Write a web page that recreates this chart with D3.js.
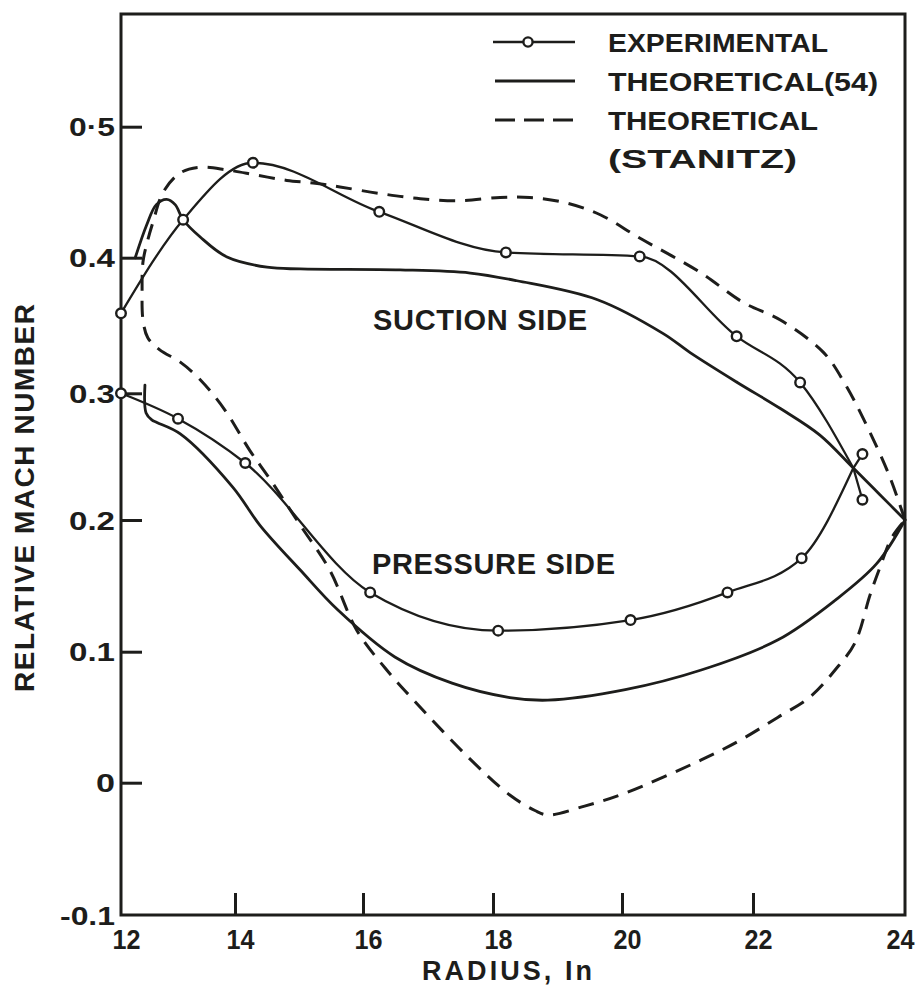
<!DOCTYPE html>
<html>
<head>
<meta charset="utf-8">
<script src="https://cdn.jsdelivr.net/npm/d3@7"></script>
<style>
  html, body { margin: 0; padding: 0; background: #ffffff; }
  svg { display: block; }
</style>
</head>
<body>
<svg id="chart" width="924" height="987"></svg>
<script>
// ---- Data: relative Mach number along the blade vs radius (in) ----

// Axis ticks
const xTickValues = [12, 14, 16, 18, 20, 22, 24];
const xTickLabels = ["12", "14", "16", "18", "20", "22", "24"];
const yTickValues = [-0.1, 0, 0.1, 0.2, 0.3, 0.4, 0.5];
const yTickLabels = ["-0.1", "0", "0.1", "0.2", "0.3", "0.4", "0·5"];

// Experimental points, suction side [radius, Mach]
const expSuction = [
  [12.00, 0.359], [13.09, 0.429], [14.28, 0.4725], [16.25, 0.435],
  [18.20, 0.404], [20.27, 0.401], [21.75, 0.342], [22.62, 0.308], [23.44, 0.252]
];
// Experimental points, pressure side
const expPressure = [
  [12.00, 0.300], [13.00, 0.280], [14.16, 0.245], [16.11, 0.145],
  [18.08, 0.116], [20.13, 0.124], [21.61, 0.145], [22.64, 0.171], [23.44, 0.216]
];
// Where the faired experimental curves meet near the trailing edge
const expJoin = [23.32, 0.241];

// Theoretical (54), suction side
const theoSuction = [
  [12.25, 0.400], [12.45, 0.425], [12.62, 0.4405], [12.80, 0.4445], [12.95, 0.4405],
  [13.09, 0.429], [13.39, 0.4158], [13.86, 0.4005], [14.50, 0.393],
  [15.02, 0.3917], [16.57, 0.391], [17.65, 0.3887], [18.37, 0.383], [19.62, 0.369],
  [20.63, 0.344], [21.04, 0.330], [21.76, 0.308], [22.36, 0.288], [22.88, 0.267],
  [23.32, 0.241], [23.67, 0.220], [24.00, 0.200]
];
// Theoretical (54), pressure side
const theoPressure = [
  [12.42, 0.306], [12.44, 0.2845], [12.54, 0.279], [12.63, 0.277], [13.04, 0.268],
  [13.96, 0.226], [14.39, 0.196], [15.02, 0.162], [15.60, 0.132], [16.49, 0.096],
  [17.37, 0.076], [18.26, 0.065], [18.85, 0.063], [20.05, 0.071], [21.21, 0.086],
  [22.33, 0.109], [23.08, 0.139], [23.63, 0.167], [24.00, 0.200]
];

// Theoretical (Stanitz), suction side from leading edge to trailing edge
const stanitzSuction = [
  [12.386, 0.397], [12.47, 0.4135], [12.56, 0.427], [12.74, 0.450], [13.04, 0.4647],
  [13.39, 0.469], [13.86, 0.467], [14.34, 0.463], [14.81, 0.459], [15.22, 0.457],
  [15.64, 0.454], [16.26, 0.449], [16.88, 0.445], [17.49, 0.4435], [18.11, 0.446],
  [18.57, 0.446], [19.12, 0.442], [19.67, 0.4326], [20.27, 0.415], [21.19, 0.3893],
  [21.85, 0.367], [22.36, 0.354], [22.93, 0.330], [23.20, 0.308], [23.46, 0.279],
  [23.78, 0.237], [24.00, 0.200]
];
// Theoretical (Stanitz), pressure side from leading edge to trailing edge
const stanitzPressure = [
  [12.386, 0.397], [12.37, 0.376], [12.386, 0.354], [12.47, 0.341], [12.68, 0.332],
  [13.04, 0.323], [13.39, 0.310], [13.82, 0.287], [14.23, 0.255], [14.55, 0.232],
  [15.02, 0.196], [15.48, 0.162], [15.90, 0.1165], [16.34, 0.0875], [16.78, 0.063],
  [17.66, 0.0174], [18.26, -0.0093], [18.65, -0.021], [18.85, -0.0244], [19.42, -0.0177],
  [20.05, -0.0078], [21.21, 0.0174], [21.81, 0.0326], [22.33, 0.050], [22.75, 0.0654],
  [23.08, 0.086], [23.34, 0.1066], [23.54, 0.143], [23.67, 0.164], [23.83, 0.187],
  [24.00, 0.200]
];

const legendItems = ["EXPERIMENTAL", "THEORETICAL(54)", "THEORETICAL", "(STANITZ)"];

// ---- Drawing ----
const ink = "#1d1d1b";
const font = "'Liberation Sans', Arial, Helvetica, sans-serif";
const svg = d3.select("#chart");

// Hand-ruled axes: tick spacing is not perfectly even, so piecewise scales
const x = d3.scaleLinear().domain(xTickValues).range([121, 235, 363, 493, 622, 753, 905]);
const y = d3.scaleLinear().domain(yTickValues).range([915, 782.7, 651.7, 520, 393.3, 257.7, 126.7]);
const frameTop = 14;

// Frame
svg.append("rect")
  .attr("x", x(12)).attr("y", frameTop)
  .attr("width", x(24) - x(12)).attr("height", y(-0.1) - frameTop)
  .attr("fill", "none").attr("stroke", ink).attr("stroke-width", 3);

// Inward tick marks
const xTicksG = svg.append("g")
  .attr("transform", `translate(0,${y(-0.1)})`)
  .call(d3.axisBottom(x).tickValues(xTickValues.slice(1, -1)).tickSizeInner(-22).tickSizeOuter(0).tickFormat(""));
xTicksG.select(".domain").remove();
xTicksG.selectAll("line").attr("stroke", ink).attr("stroke-width", 3);

const yTicksG = svg.append("g")
  .attr("transform", `translate(${x(12)},0)`)
  .call(d3.axisLeft(y).tickValues(yTickValues.slice(1)).tickSizeInner(-21).tickSizeOuter(0).tickFormat(""));
yTicksG.select(".domain").remove();
yTicksG.selectAll("line").attr("stroke", ink).attr("stroke-width", 3);

// Tick labels
const xLab = svg.append("g")
  .attr("transform", `translate(0,${y(-0.1)})`)
  .call(d3.axisBottom(x).tickValues(xTickValues).tickSize(0).tickPadding(15)
    .tickFormat((d, i) => xTickLabels[i]));
xLab.select(".domain").remove();
xLab.selectAll("text")
  .attr("font-family", font).attr("font-weight", "bold").attr("font-size", 27)
  .attr("fill", ink).attr("dx", (d, i) => i === 0 ? 5 : (i === xTickValues.length - 1 ? -5 : 5))
  .attr("textLength", 28).attr("lengthAdjust", "spacingAndGlyphs");

const yLab = svg.append("g")
  .attr("transform", `translate(${x(12)},0)`)
  .call(d3.axisLeft(y).tickValues(yTickValues).tickSize(0).tickPadding(6)
    .tickFormat((d, i) => yTickLabels[i]));
yLab.select(".domain").remove();
yLab.selectAll("text")
  .attr("font-family", font).attr("font-weight", "bold").attr("font-size", 26)
  .attr("fill", ink)
  .attr("dy", "0.35em")
  .each(function (d, i) {
    const t = yTickLabels[i];
    const w = t === "0" ? 19 : (t === "-0.1" ? 55 : 46);
    d3.select(this).attr("textLength", w).attr("lengthAdjust", "spacingAndGlyphs");
  });

// Axis titles
svg.append("text")
  .attr("x", 507).attr("y", 980)
  .attr("text-anchor", "middle")
  .attr("font-family", font).attr("font-weight", "bold").attr("font-size", 27)
  .attr("fill", ink)
  .attr("textLength", 170).attr("lengthAdjust", "spacing")
  .text("RADIUS, In");

svg.append("text")
  .attr("transform", "translate(34,498) rotate(-90)")
  .attr("text-anchor", "middle")
  .attr("font-family", font).attr("font-weight", "bold").attr("font-size", 28)
  .attr("fill", ink)
  .attr("textLength", 388).attr("lengthAdjust", "spacing")
  .text("RELATIVE MACH NUMBER");

// Curves
const smooth = d3.line().x(d => x(d[0])).y(d => y(d[1])).curve(d3.curveCatmullRom.alpha(0.5));
const faired = d3.line().x(d => x(d[0])).y(d => y(d[1])).curve(d3.curveMonotoneX);

const curves = svg.append("g").attr("fill", "none").attr("stroke", ink)
  .attr("stroke-linejoin", "round").attr("stroke-linecap", "round");

// Stanitz: one dashed loop, suction side reversed then pressure side
curves.append("path")
  .attr("d", smooth(stanitzSuction.slice().reverse().concat(stanitzPressure.slice(1))))
  .attr("stroke-width", 3).attr("stroke-dasharray", "16,10").attr("stroke-linecap", "butt");

curves.append("path").attr("d", smooth(theoSuction)).attr("stroke-width", 2.8);
curves.append("path").attr("d", smooth(theoPressure)).attr("stroke-width", 2.8);

curves.append("path")
  .attr("d", faired(expSuction.slice(0, -1).concat([expJoin])))
  .attr("stroke-width", 2.3);
curves.append("path")
  .attr("d", faired(expPressure.slice(0, -1).concat([expJoin])))
  .attr("stroke-width", 2.3);
// short leads from the junction to the trailing-edge test points
const lastPts = [expSuction[expSuction.length - 1], expPressure[expPressure.length - 1]];
curves.selectAll("line.lead").data(lastPts).join("line")
  .attr("class", "lead")
  .attr("x1", x(expJoin[0])).attr("y1", y(expJoin[1]))
  .attr("x2", d => x(d[0])).attr("y2", d => y(d[1]))
  .attr("stroke-width", 2.3);

// Experimental markers
svg.append("g").selectAll("circle")
  .data(expSuction.concat(expPressure))
  .join("circle")
  .attr("cx", d => x(d[0])).attr("cy", d => y(d[1])).attr("r", 4.8)
  .attr("fill", "#fff").attr("stroke", ink).attr("stroke-width", 2.4);

// Region labels
svg.append("text")
  .attr("x", 373).attr("y", 330)
  .attr("font-family", font).attr("font-weight", "bold").attr("font-size", 29)
  .attr("fill", ink).attr("textLength", 214).attr("lengthAdjust", "spacing")
  .text("SUCTION SIDE");
svg.append("text")
  .attr("x", 372).attr("y", 574)
  .attr("font-family", font).attr("font-weight", "bold").attr("font-size", 29)
  .attr("fill", ink).attr("textLength", 243).attr("lengthAdjust", "spacing")
  .text("PRESSURE SIDE");

// Legend
const lg = svg.append("g");
const lgX0 = 493, lgX1 = 575, lgText = 608;
const rows = [42, 81, 120, 158];
lg.append("line").attr("x1", lgX0).attr("x2", lgX1).attr("y1", rows[0]).attr("y2", rows[0])
  .attr("stroke", ink).attr("stroke-width", 2.6);
lg.append("circle").attr("cx", 528).attr("cy", rows[0]).attr("r", 4.6)
  .attr("fill", "#fff").attr("stroke", ink).attr("stroke-width", 2.4);
lg.append("line").attr("x1", lgX0 + 2).attr("x2", lgX1).attr("y1", rows[1]).attr("y2", rows[1])
  .attr("stroke", ink).attr("stroke-width", 2.8);
lg.append("line").attr("x1", lgX0 + 2).attr("x2", lgX1).attr("y1", rows[2]).attr("y2", rows[2])
  .attr("stroke", ink).attr("stroke-width", 3).attr("stroke-dasharray", "20,9");
const lgWidths = [220, 270, 210, 189];
lg.selectAll("text").data(legendItems).join("text")
  .attr("x", lgText).attr("y", (d, i) => rows[i] + 9.5)
  .attr("font-family", font).attr("font-weight", "bold").attr("font-size", 26)
  .attr("fill", ink)
  .attr("textLength", (d, i) => lgWidths[i]).attr("lengthAdjust", "spacingAndGlyphs")
  .text(d => d);
</script>
</body>
</html>
